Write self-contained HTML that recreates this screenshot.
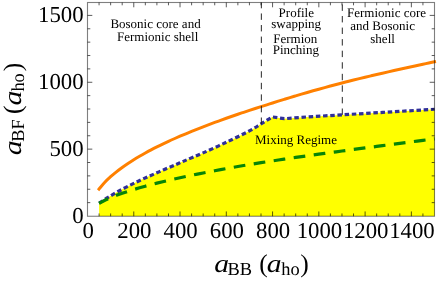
<!DOCTYPE html>
<html><head><meta charset="utf-8"><style>
html,body{margin:0;padding:0;background:#fff;}
body{width:437px;height:281px;overflow:hidden;font-family:"Liberation Serif",serif;}
svg{display:block;font-family:"Liberation Serif",serif;text-rendering:geometricPrecision;will-change:transform;}
</style></head><body>
<svg width="437" height="281" viewBox="0 0 437 281">
<rect width="437" height="281" fill="#fff"/>
<defs><clipPath id="c"><rect x="87.5" y="2.5" width="349.5" height="213.8"/></clipPath></defs>
<g clip-path="url(#c)">
<path d="M99.10 203.20 C100.58 202.23 104.83 199.35 108.00 197.40 C111.17 195.45 114.48 193.50 118.10 191.50 C121.72 189.50 125.83 187.35 129.70 185.40 C133.57 183.45 137.45 181.60 141.30 179.80 C145.15 178.00 148.95 176.32 152.80 174.60 C156.65 172.88 160.53 171.18 164.40 169.50 C168.27 167.82 172.57 165.98 176.00 164.50 C179.43 163.02 180.48 162.53 185.00 160.60 C189.52 158.67 196.22 155.95 203.10 152.90 C209.98 149.85 218.58 145.97 226.30 142.30 C234.02 138.63 243.62 133.97 249.40 130.90 C255.18 127.83 257.17 126.23 261.00 123.90 C264.83 121.57 270.50 118.07 272.40 116.90 L284.30 118.70 L307.20 116.90 L341.50 114.90 L382.80 112.40 L434.60 109.25 L434.6 216.30 L99.10 216.30 Z" fill="#ffff00"/>
<path d="M99.07 189.05 C100.03 187.93 102.92 184.38 104.85 182.33 C106.78 180.28 108.71 178.48 110.63 176.73 C112.56 174.99 114.49 173.39 116.42 171.85 C118.34 170.30 120.27 168.86 122.20 167.46 C124.13 166.06 126.06 164.73 127.98 163.44 C129.91 162.15 131.84 160.92 133.77 159.72 C135.69 158.52 137.62 157.37 139.55 156.25 C141.48 155.12 143.41 154.03 145.33 152.97 C147.26 151.91 149.19 150.88 151.12 149.87 C153.04 148.85 154.97 147.87 156.90 146.91 C158.83 145.94 160.76 145.00 162.68 144.08 C164.61 143.15 166.54 142.25 168.47 141.36 C170.39 140.47 172.32 139.60 174.25 138.75 C176.18 137.89 178.11 137.05 180.03 136.23 C181.96 135.40 183.89 134.59 185.82 133.78 C187.74 132.97 189.67 132.17 191.60 131.39 C193.53 130.60 195.46 129.82 197.38 129.06 C199.31 128.29 201.24 127.54 203.17 126.80 C205.09 126.05 207.02 125.32 208.95 124.59 C210.88 123.87 212.81 123.15 214.73 122.44 C216.66 121.73 218.59 121.04 220.52 120.34 C222.44 119.65 224.37 118.97 226.30 118.28 C228.23 117.60 230.16 116.92 232.08 116.25 C234.01 115.58 235.94 114.91 237.87 114.25 C239.79 113.60 241.72 112.94 243.65 112.30 C245.58 111.65 247.51 111.01 249.43 110.38 C251.36 109.75 253.29 109.12 255.22 108.50 C257.14 107.87 259.07 107.26 261.00 106.65 C262.93 106.03 264.86 105.42 266.78 104.81 C268.71 104.20 270.64 103.57 272.57 102.96 C274.49 102.35 276.42 101.75 278.35 101.15 C280.28 100.55 282.21 99.95 284.13 99.36 C286.06 98.77 287.99 98.18 289.92 97.59 C291.84 97.01 293.77 96.43 295.70 95.86 C297.63 95.28 299.56 94.71 301.48 94.14 C303.41 93.57 305.34 93.01 307.27 92.45 C309.19 91.89 311.12 91.34 313.05 90.80 C314.98 90.26 316.91 89.73 318.83 89.19 C320.76 88.66 322.69 88.13 324.62 87.61 C326.54 87.08 328.47 86.56 330.40 86.04 C332.33 85.52 334.26 85.00 336.18 84.49 C338.11 83.98 340.04 83.47 341.97 82.96 C343.89 82.45 345.82 81.94 347.75 81.44 C349.68 80.95 351.61 80.47 353.53 80.00 C355.46 79.53 357.39 79.07 359.32 78.61 C361.24 78.15 363.17 77.69 365.10 77.23 C367.03 76.77 368.96 76.32 370.88 75.87 C372.81 75.42 374.74 74.97 376.67 74.52 C378.59 74.07 380.52 73.63 382.45 73.19 C384.38 72.74 386.31 72.30 388.23 71.87 C390.16 71.43 392.09 70.99 394.02 70.56 C395.94 70.13 397.87 69.70 399.80 69.27 C401.73 68.84 403.66 68.41 405.58 67.99 C407.51 67.56 409.44 67.14 411.37 66.72 C413.29 66.30 415.22 65.88 417.15 65.47 C419.08 65.05 421.01 64.63 422.93 64.22 C424.86 63.81 426.79 63.40 428.72 62.99 C430.64 62.58 433.54 61.97 434.50 61.77" fill="none" stroke="#ff8000" stroke-width="3" stroke-linecap="square"/>
<path d="M99.10 203.20 C100.58 202.23 104.83 199.35 108.00 197.40 C111.17 195.45 114.48 193.50 118.10 191.50 C121.72 189.50 125.83 187.35 129.70 185.40 C133.57 183.45 137.45 181.60 141.30 179.80 C145.15 178.00 148.95 176.32 152.80 174.60 C156.65 172.88 160.53 171.18 164.40 169.50 C168.27 167.82 172.57 165.98 176.00 164.50 C179.43 163.02 180.48 162.53 185.00 160.60 C189.52 158.67 196.22 155.95 203.10 152.90 C209.98 149.85 218.58 145.97 226.30 142.30 C234.02 138.63 243.62 133.97 249.40 130.90 C255.18 127.83 257.17 126.23 261.00 123.90 C264.83 121.57 270.50 118.07 272.40 116.90 L284.30 118.70 L307.20 116.90 L341.50 114.90 L382.80 112.40 L434.60 109.25" fill="none" stroke="#2f2f99" stroke-width="3.2" stroke-dasharray="4.5 2.7"/>
<path d="M99.07 203.30 L104.85 200.25 L110.63 197.66 L116.42 195.35 L122.20 193.26 L127.98 191.32 L133.77 189.51 L139.55 187.81 L145.33 186.19 L151.12 184.64 L156.90 183.16 L162.68 181.74 L168.47 180.37 L174.25 179.04 L180.03 177.75 L185.82 176.50 L191.60 175.29 L197.38 174.11 L203.17 172.95 L208.95 171.82 L214.73 170.72 L220.52 169.64 L226.30 168.58 L232.08 167.55 L237.87 166.53 L243.65 165.53 L249.43 164.55 L255.22 163.61 L261.00 162.69 L266.78 161.78 L272.57 160.89 L278.35 160.01 L284.13 159.14 L289.92 158.29 L295.70 157.44 L301.48 156.61 L307.27 155.79 L313.05 154.98 L318.83 154.18 L324.62 153.39 L330.40 152.61 L336.18 151.81 L341.97 151.02 L347.75 150.24 L353.53 149.46 L359.32 148.69 L365.10 147.93 L370.88 147.18 L376.67 146.44 L382.45 145.68 L388.23 144.90 L394.02 144.13 L399.80 143.37 L405.58 142.61 L411.37 141.85 L417.15 141.11 L422.93 140.37 L428.72 139.63 L434.50 138.94" fill="none" stroke="#078507" stroke-width="3.2" stroke-dasharray="11.7 8.52" stroke-dashoffset="1.6"/>
</g>
<g stroke="#1c1c1c" stroke-width="0.95" stroke-dasharray="6.4 5.16" fill="none">
<path d="M261.35 123.9 V2.5"/><path d="M342.3 114.9 V2.5"/></g>
<g stroke="#000" fill="none">
<rect x="87.50" y="2.5" width="347.00" height="213.75" stroke-opacity="0.5" stroke-width="1.1"/>
<g stroke-opacity="0.68" stroke-width="0.95"><path d="M99.07 216.25 v-2.80 M99.07 2.50 v2.80"/><path d="M110.63 216.25 v-2.80 M110.63 2.50 v2.80"/><path d="M122.20 216.25 v-2.80 M122.20 2.50 v2.80"/><path d="M133.77 216.25 v-4.80 M133.77 2.50 v4.80"/><path d="M145.33 216.25 v-2.80 M145.33 2.50 v2.80"/><path d="M156.90 216.25 v-2.80 M156.90 2.50 v2.80"/><path d="M168.47 216.25 v-2.80 M168.47 2.50 v2.80"/><path d="M180.03 216.25 v-4.80 M180.03 2.50 v4.80"/><path d="M191.60 216.25 v-2.80 M191.60 2.50 v2.80"/><path d="M203.17 216.25 v-2.80 M203.17 2.50 v2.80"/><path d="M214.73 216.25 v-2.80 M214.73 2.50 v2.80"/><path d="M226.30 216.25 v-4.80 M226.30 2.50 v4.80"/><path d="M237.87 216.25 v-2.80 M237.87 2.50 v2.80"/><path d="M249.43 216.25 v-2.80 M249.43 2.50 v2.80"/><path d="M261.00 216.25 v-2.80 M261.00 2.50 v2.80"/><path d="M272.57 216.25 v-4.80 M272.57 2.50 v4.80"/><path d="M284.13 216.25 v-2.80 M284.13 2.50 v2.80"/><path d="M295.70 216.25 v-2.80 M295.70 2.50 v2.80"/><path d="M307.27 216.25 v-2.80 M307.27 2.50 v2.80"/><path d="M318.83 216.25 v-4.80 M318.83 2.50 v4.80"/><path d="M330.40 216.25 v-2.80 M330.40 2.50 v2.80"/><path d="M341.97 216.25 v-2.80 M341.97 2.50 v2.80"/><path d="M353.53 216.25 v-2.80 M353.53 2.50 v2.80"/><path d="M365.10 216.25 v-4.80 M365.10 2.50 v4.80"/><path d="M376.67 216.25 v-2.80 M376.67 2.50 v2.80"/><path d="M388.23 216.25 v-2.80 M388.23 2.50 v2.80"/><path d="M399.80 216.25 v-2.80 M399.80 2.50 v2.80"/><path d="M411.37 216.25 v-4.80 M411.37 2.50 v4.80"/><path d="M422.93 216.25 v-2.80 M422.93 2.50 v2.80"/><path d="M87.50 202.63 h2.80 M434.50 202.63 h-2.80"/><path d="M87.50 189.25 h2.80 M434.50 189.25 h-2.80"/><path d="M87.50 175.88 h2.80 M434.50 175.88 h-2.80"/><path d="M87.50 162.51 h2.80 M434.50 162.51 h-2.80"/><path d="M87.50 149.13 h4.80 M434.50 149.13 h-4.80"/><path d="M87.50 135.76 h2.80 M434.50 135.76 h-2.80"/><path d="M87.50 122.39 h2.80 M434.50 122.39 h-2.80"/><path d="M87.50 109.01 h2.80 M434.50 109.01 h-2.80"/><path d="M87.50 95.64 h2.80 M434.50 95.64 h-2.80"/><path d="M87.50 82.27 h4.80 M434.50 82.27 h-4.80"/><path d="M87.50 68.89 h2.80 M434.50 68.89 h-2.80"/><path d="M87.50 55.52 h2.80 M434.50 55.52 h-2.80"/><path d="M87.50 42.15 h2.80 M434.50 42.15 h-2.80"/><path d="M87.50 28.77 h2.80 M434.50 28.77 h-2.80"/><path d="M87.50 15.40 h4.80 M434.50 15.40 h-4.80"/></g>
</g>
<g font-size="22.8" fill="#000"><text x="88.30" y="238.2" text-anchor="middle">0</text><text x="134.37" y="238.2" text-anchor="middle">200</text><text x="180.63" y="238.2" text-anchor="middle">400</text><text x="226.90" y="238.2" text-anchor="middle">600</text><text x="273.17" y="238.2" text-anchor="middle">800</text><text x="319.43" y="238.2" text-anchor="middle">1000</text><text x="365.70" y="238.2" text-anchor="middle">1200</text><text x="411.97" y="238.2" text-anchor="middle">1400</text><text x="83.6" y="223.00" text-anchor="end">0</text><text x="83.6" y="156.13" text-anchor="end">500</text><text x="83.6" y="89.27" text-anchor="end">1000</text><text x="83.6" y="22.40" text-anchor="end">1500</text></g>
<g font-size="13" fill="#000">
<text x="110.4" y="28.1">Bosonic core and</text>
<text x="117.0" y="41.2">Fermionic shell</text>
<text x="278.6" y="16.7">Profile</text>
<text x="271.2" y="28.0">swapping</text>
<text x="273.2" y="42.5">Fermion</text>
<text x="272.7" y="54.3">Pinching</text>
<text x="347.0" y="16.6">Fermionic core</text>
<text x="350.3" y="29.5">and Bosonic</text>
<text x="370.3" y="42.5">shell</text>
<text x="255.0" y="144.0">Mixing Regime</text>
</g>
<g fill="#000" font-size="25.5">
<g transform="translate(0 271.9)"><text transform="translate(214.20 0) scale(1.16 1)" font-style="italic">a</text><text x="227.60" y="2.9" font-size="18.4">BB</text><text x="259.20" y="0">(</text><text transform="translate(266.80 0) scale(1.16 1)" font-style="italic">a</text><text x="281.20" y="2.9" font-size="18.4">ho</text><text x="300.20" y="0">)</text></g>
<g transform="translate(21.4 154.4) rotate(-90) translate(-215 0)"><text transform="translate(214.20 0) scale(1.16 1)" font-style="italic">a</text><text x="227.60" y="2.9" font-size="18.4">BF</text><text x="255.40" y="0">(</text><text transform="translate(264.00 0) scale(1.16 1)" font-style="italic">a</text><text x="277.80" y="2.9" font-size="18.4">ho</text><text x="298.20" y="0">)</text></g>
</g>
</svg>
</body></html>
